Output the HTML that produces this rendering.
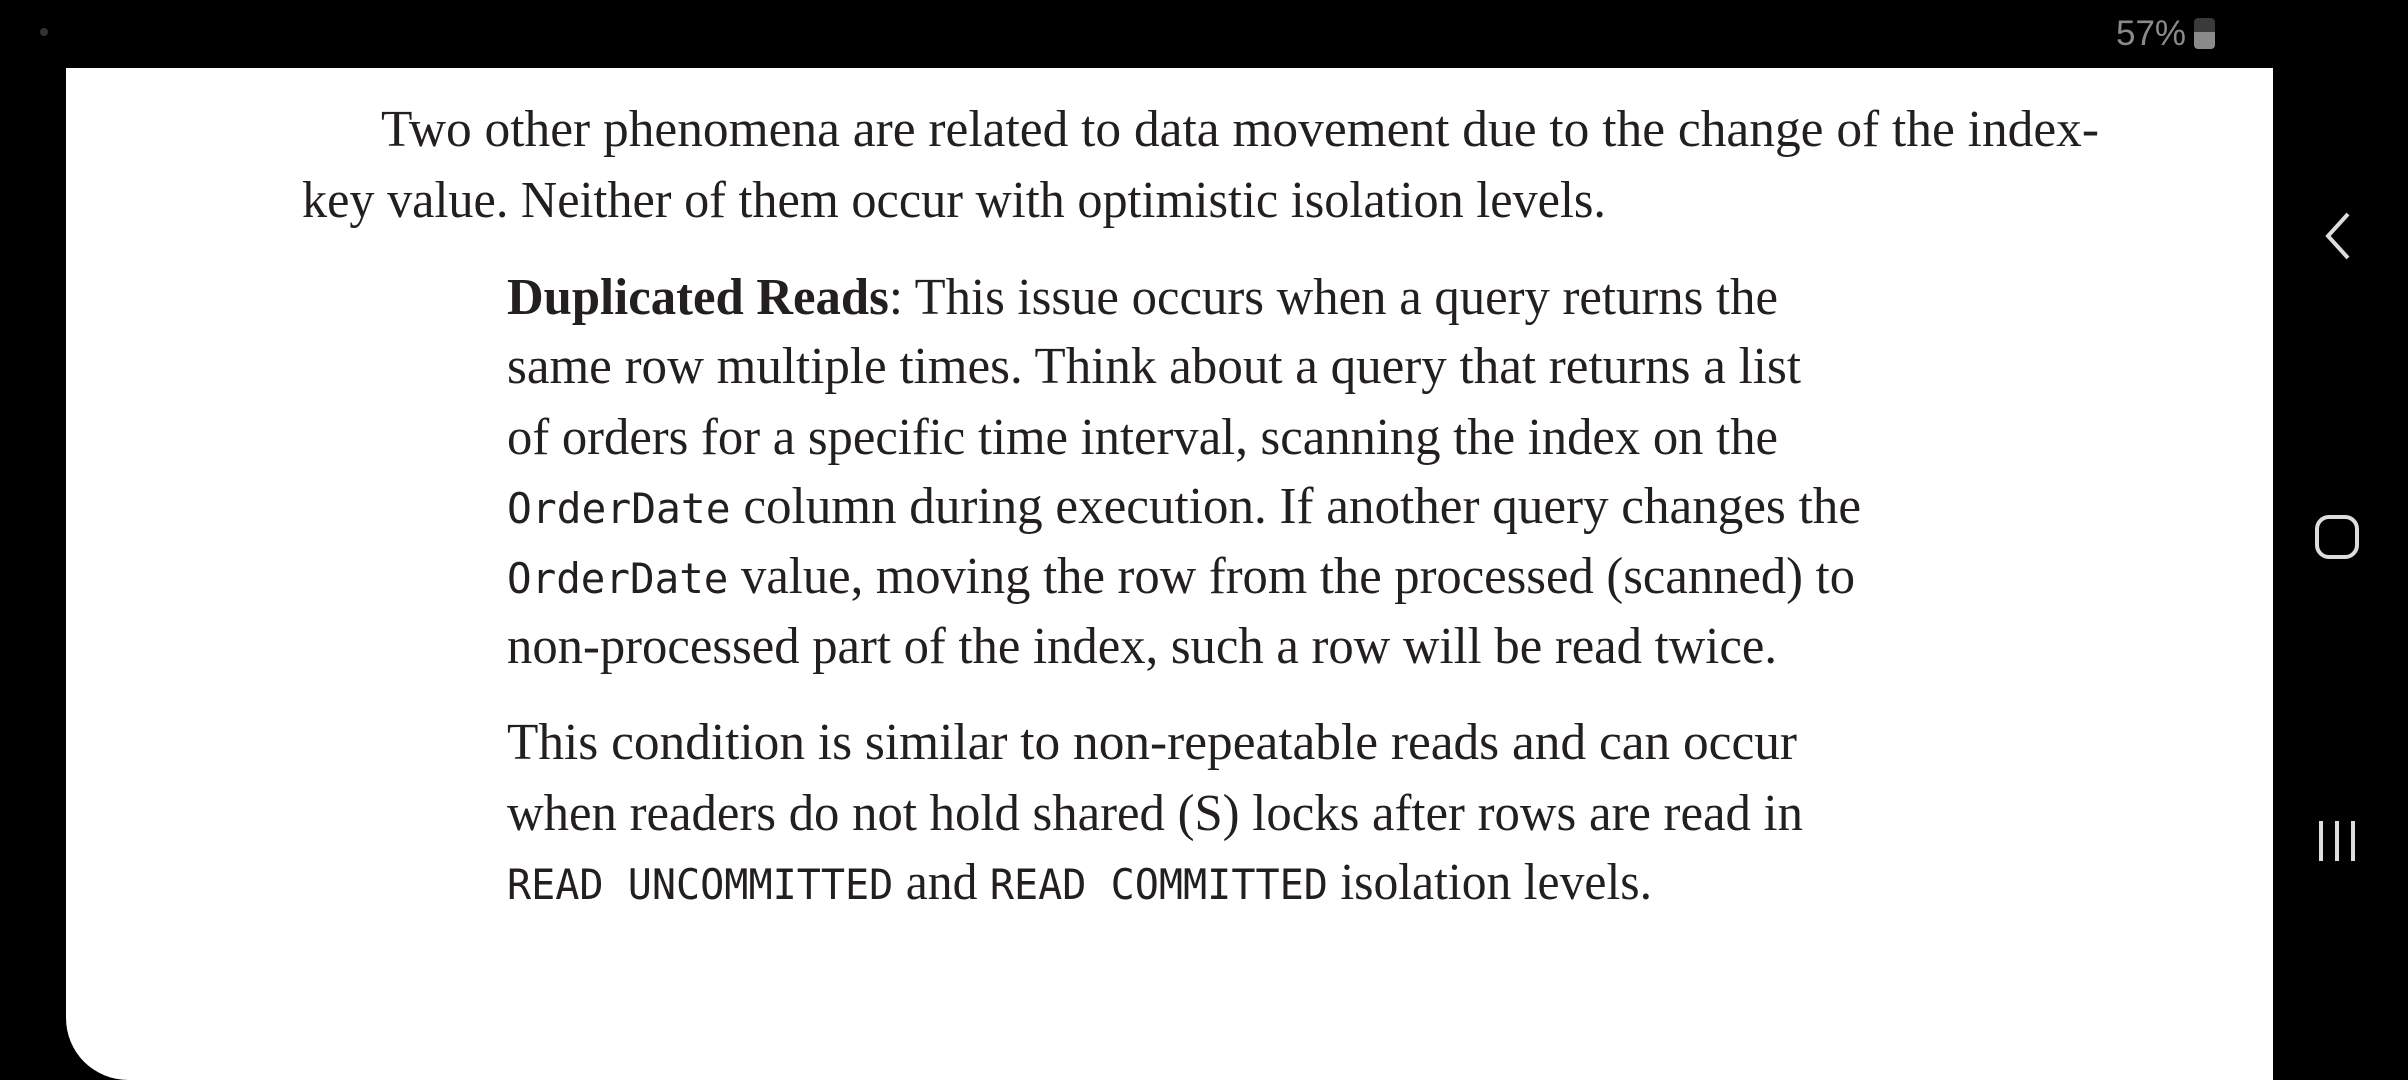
<!DOCTYPE html>
<html><head><meta charset="utf-8"><style>
html,body{margin:0;padding:0;width:2408px;height:1080px;background:#000;overflow:hidden}
#page{position:absolute;left:66px;top:68px;width:2207px;height:1012px;background:#fff;border-bottom-left-radius:62px}
.ln{position:absolute;white-space:nowrap;font-family:"Liberation Serif",serif;font-size:52px;line-height:70px;color:#231f20;transform-origin:0 50%}
.m{font-family:"DejaVu Sans Mono","Liberation Mono",monospace;font-size:42px}
#status{position:absolute;left:2116px;top:14px;font-family:"Liberation Sans",sans-serif;font-size:35px;color:#8a8a8a}
#bat{position:absolute;left:2194px;top:18px;width:21px;height:31px;border-radius:4px;background:linear-gradient(#3a3a3a 0 45%,#8a8a8a 45%)}
.nav{position:absolute;color:#ddd}
</style></head><body>
<div id="status">57%</div>
<div id="bat"></div>
<div id="dot" style="position:absolute;left:40px;top:28px;width:8px;height:8px;border-radius:50%;background:#333"></div>
<div id="page"></div>
<div id="text">
<div class="ln" data-w="2099" style="left:381px;top:95px">Two other phenomena are related to data movement due to the change of the index-</div>
<div class="ln" data-w="1606" style="left:302px;top:166px">key value. Neither of them occur with optimistic isolation levels.</div>
<div class="ln" data-w="1778" style="left:507px;top:263px"><b>Duplicated Reads</b>: This issue occurs when a query returns the</div>
<div class="ln" data-w="1801" style="left:507px;top:332px">same row multiple times. Think about a query that returns a list</div>
<div class="ln" data-w="1778" style="left:507px;top:403px">of orders for a specific time interval, scanning the index on the</div>
<div class="ln" data-w="1861" style="left:507px;top:472px"><span class="m">OrderDate</span> column during execution. If another query changes the</div>
<div class="ln" data-w="1855" style="left:507px;top:542px"><span class="m">OrderDate</span> value, moving the row from the processed (scanned) to</div>
<div class="ln" data-w="1777" style="left:507px;top:612px">non-processed part of the index, such a row will be read twice.</div>
<div class="ln" data-w="1797" style="left:507px;top:708px">This condition is similar to non-repeatable reads and can occur</div>
<div class="ln" data-w="1803" style="left:507px;top:779px">when readers do not hold shared (S) locks after rows are read in</div>
<div class="ln" data-w="1652" style="left:507px;top:848px"><span class="m">READ UNCOMMITTED</span> and <span class="m">READ COMMITTED</span> isolation levels.</div>
</div>
<svg class="nav" style="left:2320px;top:210px" width="36" height="52"><polyline points="28,4 8,26 28,48" fill="none" stroke="#ddd" stroke-width="4"/></svg>
<svg class="nav" style="left:2314px;top:514px" width="46" height="46"><rect x="3" y="3" width="40" height="40" rx="12" fill="none" stroke="#ddd" stroke-width="4"/></svg>
<svg class="nav" style="left:2316px;top:818px" width="42" height="46"><line x1="5" y1="3" x2="5" y2="43" stroke="#ddd" stroke-width="4"/><line x1="21" y1="3" x2="21" y2="43" stroke="#ddd" stroke-width="4"/><line x1="37" y1="3" x2="37" y2="43" stroke="#ddd" stroke-width="4"/></svg>
<script>
document.querySelectorAll('.ln').forEach(function(el){
  var left=parseFloat(el.style.left);
  var target=parseFloat(el.getAttribute('data-w'))-left;
  var w=el.getBoundingClientRect().width;
  if(w>0){el.style.transform='scaleX('+(target/w)+')';}
});
</script>
</body></html>
